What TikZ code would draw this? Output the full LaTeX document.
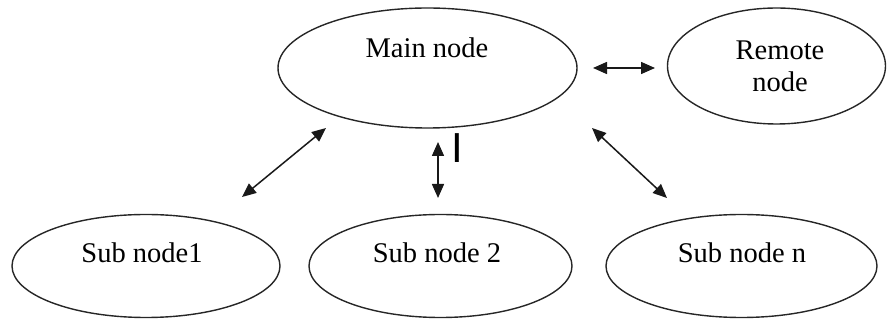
\documentclass[tikz,border=0pt]{standalone}
\usepackage{fontspec}
\setmainfont{Liberation Serif}
\newfontfamily\cursorfont{Liberation Sans}
\usetikzlibrary{shapes.geometric,arrows.meta}

\begin{document}
\begin{tikzpicture}[x=1pt,y=-1pt,
  bubble/.style={draw=black!85, line width=1.4pt, ellipse, inner sep=0pt},
  lbl/.style={anchor=base, inner sep=0pt, font=\fontsize{28.5}{32}\selectfont},
  link/.style={line width=1.5pt, black!90,
    {Triangle[length=14pt,width=12pt]}-{Triangle[length=14pt,width=12pt]}}
]
\useasboundingbox (0,0) rectangle (887,320);

% ellipses
\node[bubble, minimum width=299pt, minimum height=120pt] (main)   at (427.5,68) {};
\node[bubble, minimum width=218pt, minimum height=116pt] (remote) at (776.5,66) {};
\node[bubble, minimum width=268pt, minimum height=103pt] (sub1)   at (146,266) {};
\node[bubble, minimum width=263pt, minimum height=103pt] (sub2)   at (440.5,266) {};
\node[bubble, minimum width=271pt, minimum height=103pt] (subn)   at (741.5,266) {};

% labels
\node[lbl] (mainlbl) at (427,58) {Main node};
\node[lbl, align=center] (remotelbl) at (780,92) {Remote\\node};
\node[lbl] (sub1lbl) at (142,263) {Sub node1};
\node[lbl] (sub2lbl) at (437,263) {Sub node 2};
\node[lbl] (subnlbl) at (742,263) {Sub node n};

% text cursor mark
\node[anchor=base, inner sep=0pt, font=\cursorfont\fontsize{42}{42}\selectfont] (cursor) at (457,163) {I};

% arrow end points
\coordinate (hA) at (593,68);  \coordinate (hB) at (655,68);
\coordinate (lA) at (242,197); \coordinate (lB) at (326,128);
\coordinate (vA) at (438,142); \coordinate (vB) at (438,198);
\coordinate (rA) at (592,128); \coordinate (rB) at (667,198);

% connectors
\draw[link] (hA) -- (hB);
\draw[link] (lA) -- (lB);
\draw[link] (vA) -- (vB);
\draw[link] (rA) -- (rB);
\end{tikzpicture}
\end{document}
